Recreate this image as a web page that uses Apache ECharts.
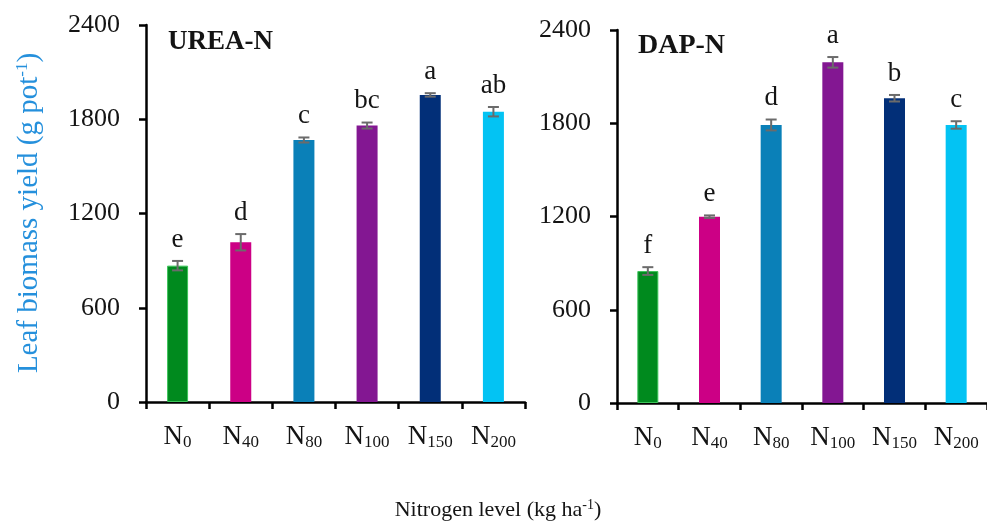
<!DOCTYPE html>
<html>
<head>
<meta charset="utf-8">
<script src="https://cdn.jsdelivr.net/npm/echarts@6/dist/echarts.min.js"></script>
<style>
  html, body { margin: 0; padding: 0; background: #fff; }
  #chart { width: 987px; height: 521px; }
</style>
</head>
<body>
<div id="chart"></div>
<script>
// Nitrogen application levels (kg ha-1), shown as N with a subscript
const levels = ['0', '40', '80', '100', '150', '200'];

// Leaf biomass yield (g pot-1): means, standard errors and significance letters
const ureaYield = [868, 1017, 1668, 1760, 1955, 1848];
const ureaErr = [30, 52, 16, 19, 11, 30];
const ureaLetters = ['e', 'd', 'c', 'bc', 'a', 'ab'];

const dapYield = [849, 1199, 1789, 2192, 1961, 1789];
const dapErr = [25, 8, 35, 34, 21, 24];
const dapLetters = ['f', 'e', 'd', 'a', 'b', 'c'];

// Y axis ticks
const yMin = 0, yMax = 2400, yStep = 600;

// One colour per nitrogen level
const palette = ['#008a1e', '#cc0085', '#0a80b8', '#831792', '#022f78', '#03c3f3'];

const FONT = '"Liberation Serif", "DejaVu Serif", serif';
const INK = '#141414';

const chart = echarts.init(document.getElementById('chart'));

function barData(values) {
  return values.map((v, i) => ({
    value: v,
    itemStyle: {
      color: palette[i],
      borderColor: i === 0 ? '#3cc45a' : palette[i],
      borderWidth: i === 0 ? 1 : 0
    }
  }));
}

function errorData(values, errs) {
  return values.map((v, i) => [i, v, errs[i]]);
}

// Draws the error bar with caps and the significance letter above it
function errorRenderer(letters) {
  return function (params, api) {
    const i = api.value(0);
    const v = api.value(1);
    const e = api.value(2);
    const top = api.coord([i, v + e]);
    const bot = api.coord([i, v - e]);
    const half = 5.5;
    const stroke = { stroke: '#6b6b6b', lineWidth: 2 };
    return {
      type: 'group',
      children: [
        { type: 'line', shape: { x1: top[0], y1: top[1], x2: bot[0], y2: bot[1] }, style: stroke },
        { type: 'line', shape: { x1: top[0] - half, y1: top[1], x2: top[0] + half, y2: top[1] }, style: stroke },
        { type: 'line', shape: { x1: bot[0] - half, y1: bot[1], x2: bot[0] + half, y2: bot[1] }, style: stroke },
        {
          type: 'text',
          style: {
            text: letters[params.dataIndex],
            x: top[0],
            y: top[1] - 8,
            align: 'center',
            verticalAlign: 'bottom',
            font: '27px ' + FONT,
            fill: INK
          }
        }
      ]
    };
  };
}

function xAxisFor(gridIndex) {
  return {
    type: 'category',
    gridIndex: gridIndex,
    data: levels,
    boundaryGap: true,
    axisLine: { lineStyle: { color: '#000', width: 2.5 } },
    axisTick: { show: true, interval: 0, length: 7, lineStyle: { color: '#000', width: 2.5 } },
    axisLabel: {
      interval: 0,
      margin: 21,
      formatter: (v) => '{n|N}{s|' + v + '}',
      rich: {
        n: { fontFamily: FONT, fontSize: 27, color: INK, lineHeight: 28, verticalAlign: 'middle' },
        s: { fontFamily: FONT, fontSize: 17, color: INK, lineHeight: 20, verticalAlign: 'bottom' }
      }
    },
    splitLine: { show: false }
  };
}

function yAxisFor(gridIndex) {
  return {
    type: 'value',
    gridIndex: gridIndex,
    min: yMin,
    max: yMax,
    interval: yStep,
    axisLine: { show: true, lineStyle: { color: '#000', width: 2.5 } },
    axisTick: { show: true, length: 7, lineStyle: { color: '#000', width: 2.5 } },
    axisLabel: {
      margin: 26, fontFamily: FONT, fontSize: 26, color: INK,
      formatter: (v) => String(v)
    },
    splitLine: { show: false }
  };
}

const option = {
  animation: false,
  backgroundColor: '#ffffff',
  grid: [
    { left: 146, top: 25, width: 379, height: 377 },
    { left: 617, top: 30, width: 379, height: 373 }
  ],
  xAxis: [xAxisFor(0), xAxisFor(1)],
  yAxis: [yAxisFor(0), yAxisFor(1)],
  series: [
    {
      name: 'UREA-N', type: 'bar', xAxisIndex: 0, yAxisIndex: 0,
      barWidth: 21, data: barData(ureaYield)
    },
    {
      name: 'UREA-N error', type: 'custom', xAxisIndex: 0, yAxisIndex: 0, z: 5,
      renderItem: errorRenderer(ureaLetters), data: errorData(ureaYield, ureaErr)
    },
    {
      name: 'DAP-N', type: 'bar', xAxisIndex: 1, yAxisIndex: 1,
      barWidth: 21, data: barData(dapYield)
    },
    {
      name: 'DAP-N error', type: 'custom', xAxisIndex: 1, yAxisIndex: 1, z: 5,
      renderItem: errorRenderer(dapLetters), data: errorData(dapYield, dapErr)
    }
  ],
  graphic: [
    {
      type: 'text', left: 168, top: 29,
      style: { text: 'UREA-N', font: 'bold 27px ' + FONT, fill: INK }
    },
    {
      type: 'text', left: 638, top: 32,
      style: { text: 'DAP-N', font: 'bold 28px ' + FONT, fill: INK }
    },
    {
      type: 'text',
      x: 29, y: 213,
      rotation: Math.PI / 2,
      style: {
        text: '{a|Leaf biomass yield (g pot}{b|-1}{a|)}',
        align: 'center',
        verticalAlign: 'middle',
        rich: {
          a: { fontFamily: FONT, fontSize: 29, fill: '#2590dc', lineHeight: 30, verticalAlign: 'middle' },
          b: { fontFamily: FONT, fontSize: 17, fill: '#2590dc', lineHeight: 16, verticalAlign: 'top' }
        }
      }
    },
    {
      type: 'text',
      x: 498, y: 510,
      style: {
        text: '{a|Nitrogen level (kg ha}{b|-1}{a|)}',
        align: 'center',
        verticalAlign: 'middle',
        rich: {
          a: { fontFamily: FONT, fontSize: 22, fill: INK, lineHeight: 24, verticalAlign: 'middle' },
          b: { fontFamily: FONT, fontSize: 14, fill: INK, lineHeight: 13, verticalAlign: 'top' }
        }
      }
    }
  ]
};

chart.setOption(option);
</script>
</body>
</html>
